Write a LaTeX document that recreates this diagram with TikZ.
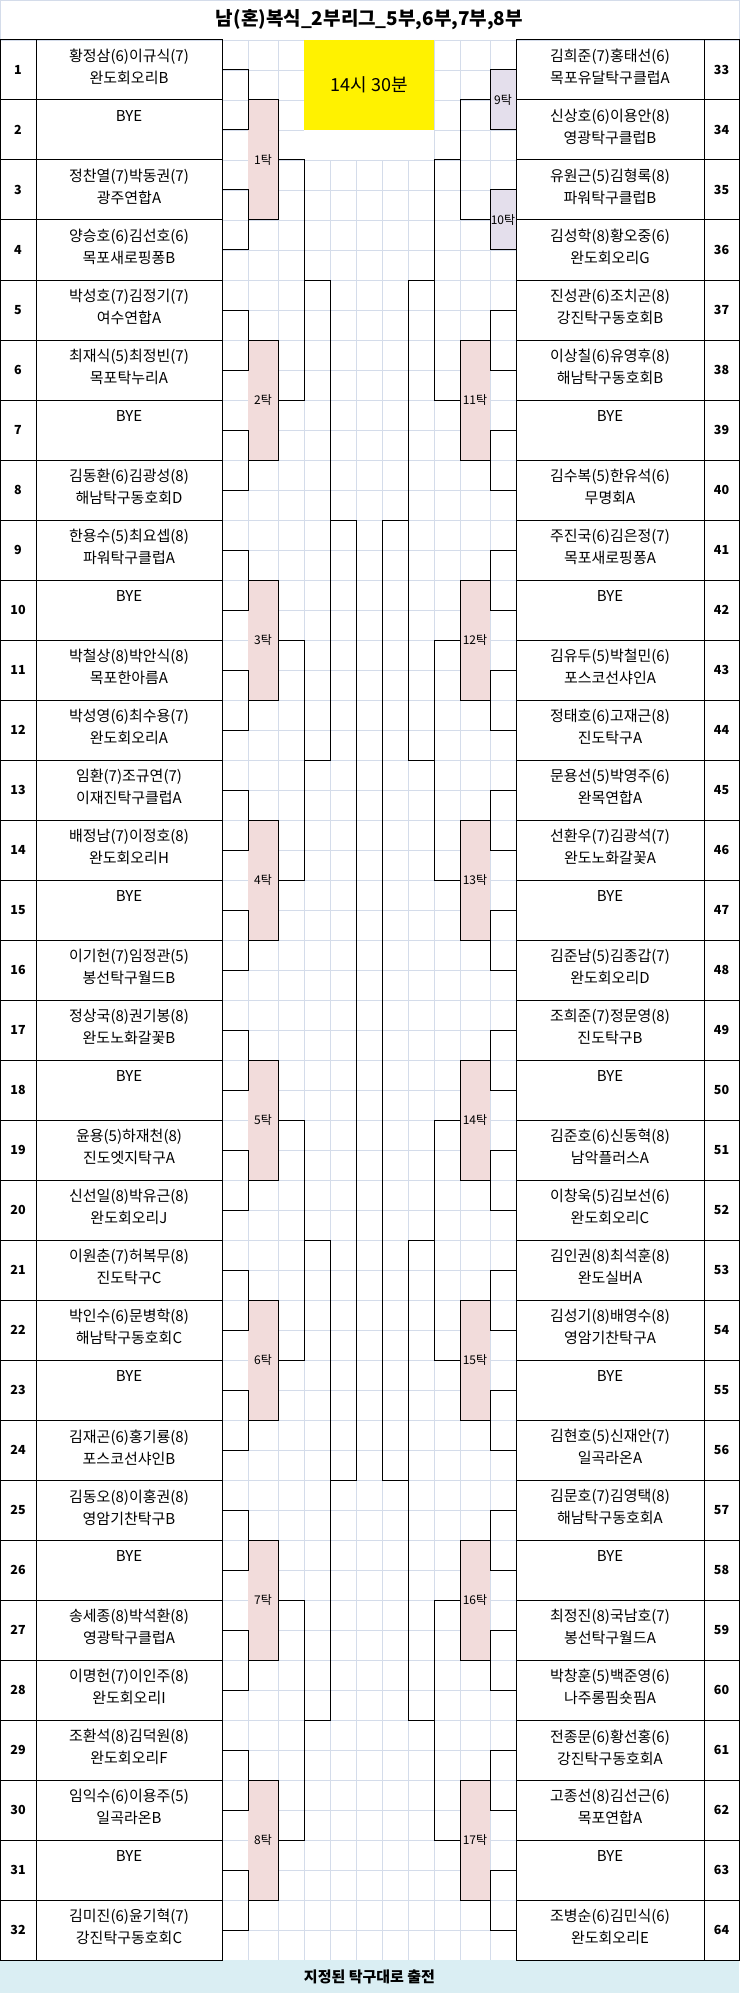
\documentclass[tikz,border=0pt]{standalone}
\usepackage{fontspec}
\setmainfont{Noto Sans CJK KR}
\usetikzlibrary{positioning}
\definecolor{gridgray}{RGB}{212,220,234}
\definecolor{boxpink}{RGB}{242,220,219}
\definecolor{boxlilac}{RGB}{228,223,236}
\definecolor{footblue}{RGB}{218,238,243}
\begin{document}
\begin{tikzpicture}[x=1pt,y=-1pt,line width=1pt,
  gridline/.style={draw=gridgray,line width=0.8pt},
  cell/.style={draw,minimum width=186pt,minimum height=60pt,inner sep=0pt,outer sep=0pt,align=center,
    font=\fontsize{15}{22}\selectfont,execute at begin node=\strut,execute at end node=\strut},
  rcell/.style={cell,minimum width=188pt},
  numcell/.style={draw,minimum width=36pt,minimum height=60pt,inner sep=0pt,outer sep=0pt,font=\fontsize{12.5}{15}\selectfont\bfseries},
  rnum/.style={numcell,minimum width=35pt},
  pinkbox/.style={fill=boxpink,minimum width=30pt,minimum height=120pt,inner sep=0pt,outer sep=0pt,font=\fontsize{12}{14}\selectfont},
  lilacbox/.style={draw,fill=boxlilac,minimum width=26pt,minimum height=60pt,inner sep=0pt,outer sep=0pt,font=\fontsize{12}{14}\selectfont}]
\useasboundingbox (0,0) rectangle (739,1993);
\foreach \y in {40,70,...,1960} \draw[gridline] (222,\y) -- (516,\y);
\foreach \x in {248,278,304,330,356,382,408,434,460,490} \draw[gridline] (\x,40) -- (\x,1960);
\draw[gridline] (0,0) rectangle (739,40);
\node[font=\fontsize{19}{22}\selectfont\bfseries] (title) at (369.5,20) {남(혼)복식\_2부리그\_5부,6부,7부,8부};
\fill[white] (304,40) rectangle (434,160);
\node[fill=yellow,minimum width=130pt,minimum height=90pt,inner sep=0pt,font=\fontsize{18}{20}\selectfont] (time) at (369,85) {14시 30분};
\node[fill=footblue,minimum width=739pt,minimum height=33pt,inner sep=0pt,font=\fontsize{15}{17}\selectfont\bfseries] (foot) at (369.5,1976.5) {지정된 탁구대로 출전};

\node[pinkbox] (t1) at (263,160) {1탁};
\node[pinkbox] (t2) at (263,400) {2탁};
\node[pinkbox] (t3) at (263,640) {3탁};
\node[pinkbox] (t4) at (263,880) {4탁};
\node[pinkbox] (t5) at (263,1120) {5탁};
\node[pinkbox] (t6) at (263,1360) {6탁};
\node[pinkbox] (t7) at (263,1600) {7탁};
\node[pinkbox] (t8) at (263,1840) {8탁};
\node[lilacbox] (t9) at (503,100) {9탁};
\node[lilacbox] (t10) at (503,220) {10탁};
\node[pinkbox] (t11) at (475,400) {11탁};
\node[pinkbox] (t12) at (475,640) {12탁};
\node[pinkbox] (t13) at (475,880) {13탁};
\node[pinkbox] (t14) at (475,1120) {14탁};
\node[pinkbox] (t15) at (475,1360) {15탁};
\node[pinkbox] (t16) at (475,1600) {16탁};
\node[pinkbox] (t17) at (475,1840) {17탁};

\node[cell] (e1) at (129,70) {황정삼(6)이규식(7)\\완도회오리B}; \node[numcell,left=0pt of e1] (n1) {1};
\node[cell,below=0pt of e1] (e2) {BYE\\~}; \node[numcell,left=0pt of e2] (n2) {2};
\node[cell,below=0pt of e2] (e3) {정찬열(7)박동권(7)\\광주연합A}; \node[numcell,left=0pt of e3] (n3) {3};
\node[cell,below=0pt of e3] (e4) {양승호(6)김선호(6)\\목포새로핑퐁B}; \node[numcell,left=0pt of e4] (n4) {4};
\node[cell,below=0pt of e4] (e5) {박성호(7)김정기(7)\\여수연합A}; \node[numcell,left=0pt of e5] (n5) {5};
\node[cell,below=0pt of e5] (e6) {최재식(5)최정빈(7)\\목포탁누리A}; \node[numcell,left=0pt of e6] (n6) {6};
\node[cell,below=0pt of e6] (e7) {BYE\\~}; \node[numcell,left=0pt of e7] (n7) {7};
\node[cell,below=0pt of e7] (e8) {김동환(6)김광성(8)\\해남탁구동호회D}; \node[numcell,left=0pt of e8] (n8) {8};
\node[cell,below=0pt of e8] (e9) {한용수(5)최요셉(8)\\파워탁구클럽A}; \node[numcell,left=0pt of e9] (n9) {9};
\node[cell,below=0pt of e9] (e10) {BYE\\~}; \node[numcell,left=0pt of e10] (n10) {10};
\node[cell,below=0pt of e10] (e11) {박철상(8)박안식(8)\\목포한아름A}; \node[numcell,left=0pt of e11] (n11) {11};
\node[cell,below=0pt of e11] (e12) {박성영(6)최수용(7)\\완도회오리A}; \node[numcell,left=0pt of e12] (n12) {12};
\node[cell,below=0pt of e12] (e13) {임환(7)조규연(7)\\이재진탁구클럽A}; \node[numcell,left=0pt of e13] (n13) {13};
\node[cell,below=0pt of e13] (e14) {배정남(7)이정호(8)\\완도회오리H}; \node[numcell,left=0pt of e14] (n14) {14};
\node[cell,below=0pt of e14] (e15) {BYE\\~}; \node[numcell,left=0pt of e15] (n15) {15};
\node[cell,below=0pt of e15] (e16) {이기헌(7)임정관(5)\\봉선탁구월드B}; \node[numcell,left=0pt of e16] (n16) {16};
\node[cell,below=0pt of e16] (e17) {정상국(8)권기봉(8)\\완도노화갈꽃B}; \node[numcell,left=0pt of e17] (n17) {17};
\node[cell,below=0pt of e17] (e18) {BYE\\~}; \node[numcell,left=0pt of e18] (n18) {18};
\node[cell,below=0pt of e18] (e19) {윤용(5)하재천(8)\\진도엣지탁구A}; \node[numcell,left=0pt of e19] (n19) {19};
\node[cell,below=0pt of e19] (e20) {신선일(8)박유근(8)\\완도회오리J}; \node[numcell,left=0pt of e20] (n20) {20};
\node[cell,below=0pt of e20] (e21) {이원춘(7)허복무(8)\\진도탁구C}; \node[numcell,left=0pt of e21] (n21) {21};
\node[cell,below=0pt of e21] (e22) {박인수(6)문병학(8)\\해남탁구동호회C}; \node[numcell,left=0pt of e22] (n22) {22};
\node[cell,below=0pt of e22] (e23) {BYE\\~}; \node[numcell,left=0pt of e23] (n23) {23};
\node[cell,below=0pt of e23] (e24) {김재곤(6)홍기룡(8)\\포스코선샤인B}; \node[numcell,left=0pt of e24] (n24) {24};
\node[cell,below=0pt of e24] (e25) {김동오(8)이홍권(8)\\영암기찬탁구B}; \node[numcell,left=0pt of e25] (n25) {25};
\node[cell,below=0pt of e25] (e26) {BYE\\~}; \node[numcell,left=0pt of e26] (n26) {26};
\node[cell,below=0pt of e26] (e27) {송세종(8)박석환(8)\\영광탁구클럽A}; \node[numcell,left=0pt of e27] (n27) {27};
\node[cell,below=0pt of e27] (e28) {이명헌(7)이인주(8)\\완도회오리I}; \node[numcell,left=0pt of e28] (n28) {28};
\node[cell,below=0pt of e28] (e29) {조환석(8)김덕원(8)\\완도회오리F}; \node[numcell,left=0pt of e29] (n29) {29};
\node[cell,below=0pt of e29] (e30) {임익수(6)이용주(5)\\일곡라온B}; \node[numcell,left=0pt of e30] (n30) {30};
\node[cell,below=0pt of e30] (e31) {BYE\\~}; \node[numcell,left=0pt of e31] (n31) {31};
\node[cell,below=0pt of e31] (e32) {김미진(6)윤기혁(7)\\강진탁구동호회C}; \node[numcell,left=0pt of e32] (n32) {32};

\node[rcell] (e33) at (610,70) {김희준(7)홍태선(6)\\목포유달탁구클럽A}; \node[rnum,right=0pt of e33] (n33) {33};
\node[rcell,below=0pt of e33] (e34) {신상호(6)이용안(8)\\영광탁구클럽B}; \node[rnum,right=0pt of e34] (n34) {34};
\node[rcell,below=0pt of e34] (e35) {유원근(5)김형록(8)\\파워탁구클럽B}; \node[rnum,right=0pt of e35] (n35) {35};
\node[rcell,below=0pt of e35] (e36) {김성학(8)황오중(6)\\완도회오리G}; \node[rnum,right=0pt of e36] (n36) {36};
\node[rcell,below=0pt of e36] (e37) {진성관(6)조치곤(8)\\강진탁구동호회B}; \node[rnum,right=0pt of e37] (n37) {37};
\node[rcell,below=0pt of e37] (e38) {이상칠(6)유영후(8)\\해남탁구동호회B}; \node[rnum,right=0pt of e38] (n38) {38};
\node[rcell,below=0pt of e38] (e39) {BYE\\~}; \node[rnum,right=0pt of e39] (n39) {39};
\node[rcell,below=0pt of e39] (e40) {김수복(5)한유석(6)\\무명회A}; \node[rnum,right=0pt of e40] (n40) {40};
\node[rcell,below=0pt of e40] (e41) {주진국(6)김은정(7)\\목포새로핑퐁A}; \node[rnum,right=0pt of e41] (n41) {41};
\node[rcell,below=0pt of e41] (e42) {BYE\\~}; \node[rnum,right=0pt of e42] (n42) {42};
\node[rcell,below=0pt of e42] (e43) {김유두(5)박철민(6)\\포스코선샤인A}; \node[rnum,right=0pt of e43] (n43) {43};
\node[rcell,below=0pt of e43] (e44) {정태호(6)고재근(8)\\진도탁구A}; \node[rnum,right=0pt of e44] (n44) {44};
\node[rcell,below=0pt of e44] (e45) {문용선(5)박영주(6)\\완목연합A}; \node[rnum,right=0pt of e45] (n45) {45};
\node[rcell,below=0pt of e45] (e46) {선환우(7)김광석(7)\\완도노화갈꽃A}; \node[rnum,right=0pt of e46] (n46) {46};
\node[rcell,below=0pt of e46] (e47) {BYE\\~}; \node[rnum,right=0pt of e47] (n47) {47};
\node[rcell,below=0pt of e47] (e48) {김준남(5)김종갑(7)\\완도회오리D}; \node[rnum,right=0pt of e48] (n48) {48};
\node[rcell,below=0pt of e48] (e49) {조희준(7)정문영(8)\\진도탁구B}; \node[rnum,right=0pt of e49] (n49) {49};
\node[rcell,below=0pt of e49] (e50) {BYE\\~}; \node[rnum,right=0pt of e50] (n50) {50};
\node[rcell,below=0pt of e50] (e51) {김준호(6)신동혁(8)\\남악플러스A}; \node[rnum,right=0pt of e51] (n51) {51};
\node[rcell,below=0pt of e51] (e52) {이창욱(5)김보선(6)\\완도회오리C}; \node[rnum,right=0pt of e52] (n52) {52};
\node[rcell,below=0pt of e52] (e53) {김인권(8)최석훈(8)\\완도실버A}; \node[rnum,right=0pt of e53] (n53) {53};
\node[rcell,below=0pt of e53] (e54) {김성기(8)배영수(8)\\영암기찬탁구A}; \node[rnum,right=0pt of e54] (n54) {54};
\node[rcell,below=0pt of e54] (e55) {BYE\\~}; \node[rnum,right=0pt of e55] (n55) {55};
\node[rcell,below=0pt of e55] (e56) {김현호(5)신재안(7)\\일곡라온A}; \node[rnum,right=0pt of e56] (n56) {56};
\node[rcell,below=0pt of e56] (e57) {김문호(7)김영택(8)\\해남탁구동호회A}; \node[rnum,right=0pt of e57] (n57) {57};
\node[rcell,below=0pt of e57] (e58) {BYE\\~}; \node[rnum,right=0pt of e58] (n58) {58};
\node[rcell,below=0pt of e58] (e59) {최정진(8)국남호(7)\\봉선탁구월드A}; \node[rnum,right=0pt of e59] (n59) {59};
\node[rcell,below=0pt of e59] (e60) {박창훈(5)백준영(6)\\나주롱핌숏핌A}; \node[rnum,right=0pt of e60] (n60) {60};
\node[rcell,below=0pt of e60] (e61) {전종문(6)황선홍(6)\\강진탁구동호회A}; \node[rnum,right=0pt of e61] (n61) {61};
\node[rcell,below=0pt of e61] (e62) {고종선(8)김선근(6)\\목포연합A}; \node[rnum,right=0pt of e62] (n62) {62};
\node[rcell,below=0pt of e62] (e63) {BYE\\~}; \node[rnum,right=0pt of e63] (n63) {63};
\node[rcell,below=0pt of e63] (e64) {조병순(6)김민식(6)\\완도회오리E}; \node[rnum,right=0pt of e64] (n64) {64};

\draw (e1.east) -- ++(26,0) |- (e2.east);
\draw (e3.east) -- ++(26,0) |- (e4.east);
\draw (e5.east) -- ++(26,0) |- (e6.east);
\draw (e7.east) -- ++(26,0) |- (e8.east);
\draw (e9.east) -- ++(26,0) |- (e10.east);
\draw (e11.east) -- ++(26,0) |- (e12.east);
\draw (e13.east) -- ++(26,0) |- (e14.east);
\draw (e15.east) -- ++(26,0) |- (e16.east);
\draw (e17.east) -- ++(26,0) |- (e18.east);
\draw (e19.east) -- ++(26,0) |- (e20.east);
\draw (e21.east) -- ++(26,0) |- (e22.east);
\draw (e23.east) -- ++(26,0) |- (e24.east);
\draw (e25.east) -- ++(26,0) |- (e26.east);
\draw (e27.east) -- ++(26,0) |- (e28.east);
\draw (e29.east) -- ++(26,0) |- (e30.east);
\draw (e31.east) -- ++(26,0) |- (e32.east);
\draw (t1.north west) -| (t1.south east) -- (t1.south west);
\draw (t2.north west) -| (t2.south east) -- (t2.south west);
\draw (t3.north west) -| (t3.south east) -- (t3.south west);
\draw (t4.north west) -| (t4.south east) -- (t4.south west);
\draw (t5.north west) -| (t5.south east) -- (t5.south west);
\draw (t6.north west) -| (t6.south east) -- (t6.south west);
\draw (t7.north west) -| (t7.south east) -- (t7.south west);
\draw (t8.north west) -| (t8.south east) -- (t8.south west);
\draw (t1.east) -- ++(26,0) |- (t2.east);
\draw (t3.east) -- ++(26,0) |- (t4.east);
\draw (t5.east) -- ++(26,0) |- (t6.east);
\draw (t7.east) -- ++(26,0) |- (t8.east);
\coordinate (m1) at (304,280);
\coordinate (m2) at (304,760);
\coordinate (m3) at (304,1240);
\coordinate (m4) at (304,1720);
\draw (m1) -- ++(26,0) |- (m2);
\draw (m3) -- ++(26,0) |- (m4);
\coordinate (k1) at (330,520);
\coordinate (k2) at (330,1480);
\draw (k1) -- ++(26,0) |- (k2);

\draw (e37.west) -- ++(-26,0) |- (e38.west);
\draw (e39.west) -- ++(-26,0) |- (e40.west);
\draw (e41.west) -- ++(-26,0) |- (e42.west);
\draw (e43.west) -- ++(-26,0) |- (e44.west);
\draw (e45.west) -- ++(-26,0) |- (e46.west);
\draw (e47.west) -- ++(-26,0) |- (e48.west);
\draw (e49.west) -- ++(-26,0) |- (e50.west);
\draw (e51.west) -- ++(-26,0) |- (e52.west);
\draw (e53.west) -- ++(-26,0) |- (e54.west);
\draw (e55.west) -- ++(-26,0) |- (e56.west);
\draw (e57.west) -- ++(-26,0) |- (e58.west);
\draw (e59.west) -- ++(-26,0) |- (e60.west);
\draw (e61.west) -- ++(-26,0) |- (e62.west);
\draw (e63.west) -- ++(-26,0) |- (e64.west);
\draw (t9.west) -- ++(-30,0) |- (t10.west);
\draw (t11.north east) -| (t11.south west) -- (t11.south east);
\draw (t12.north east) -| (t12.south west) -- (t12.south east);
\draw (t13.north east) -| (t13.south west) -- (t13.south east);
\draw (t14.north east) -| (t14.south west) -- (t14.south east);
\draw (t15.north east) -| (t15.south west) -- (t15.south east);
\draw (t16.north east) -| (t16.south west) -- (t16.south east);
\draw (t17.north east) -| (t17.south west) -- (t17.south east);
\coordinate (r1) at (460,160);
\draw (r1) -- ++(-26,0) |- (t11.west);
\draw (t12.west) -- ++(-26,0) |- (t13.west);
\draw (t14.west) -- ++(-26,0) |- (t15.west);
\draw (t16.west) -- ++(-26,0) |- (t17.west);
\coordinate (s1) at (434,280);
\coordinate (s2) at (434,760);
\coordinate (s3) at (434,1240);
\coordinate (s4) at (434,1720);
\draw (s1) -- ++(-26,0) |- (s2);
\draw (s3) -- ++(-26,0) |- (s4);
\coordinate (u1) at (408,520);
\coordinate (u2) at (408,1480);
\draw (u1) -- ++(-26,0) |- (u2);
\end{tikzpicture}
\end{document}
